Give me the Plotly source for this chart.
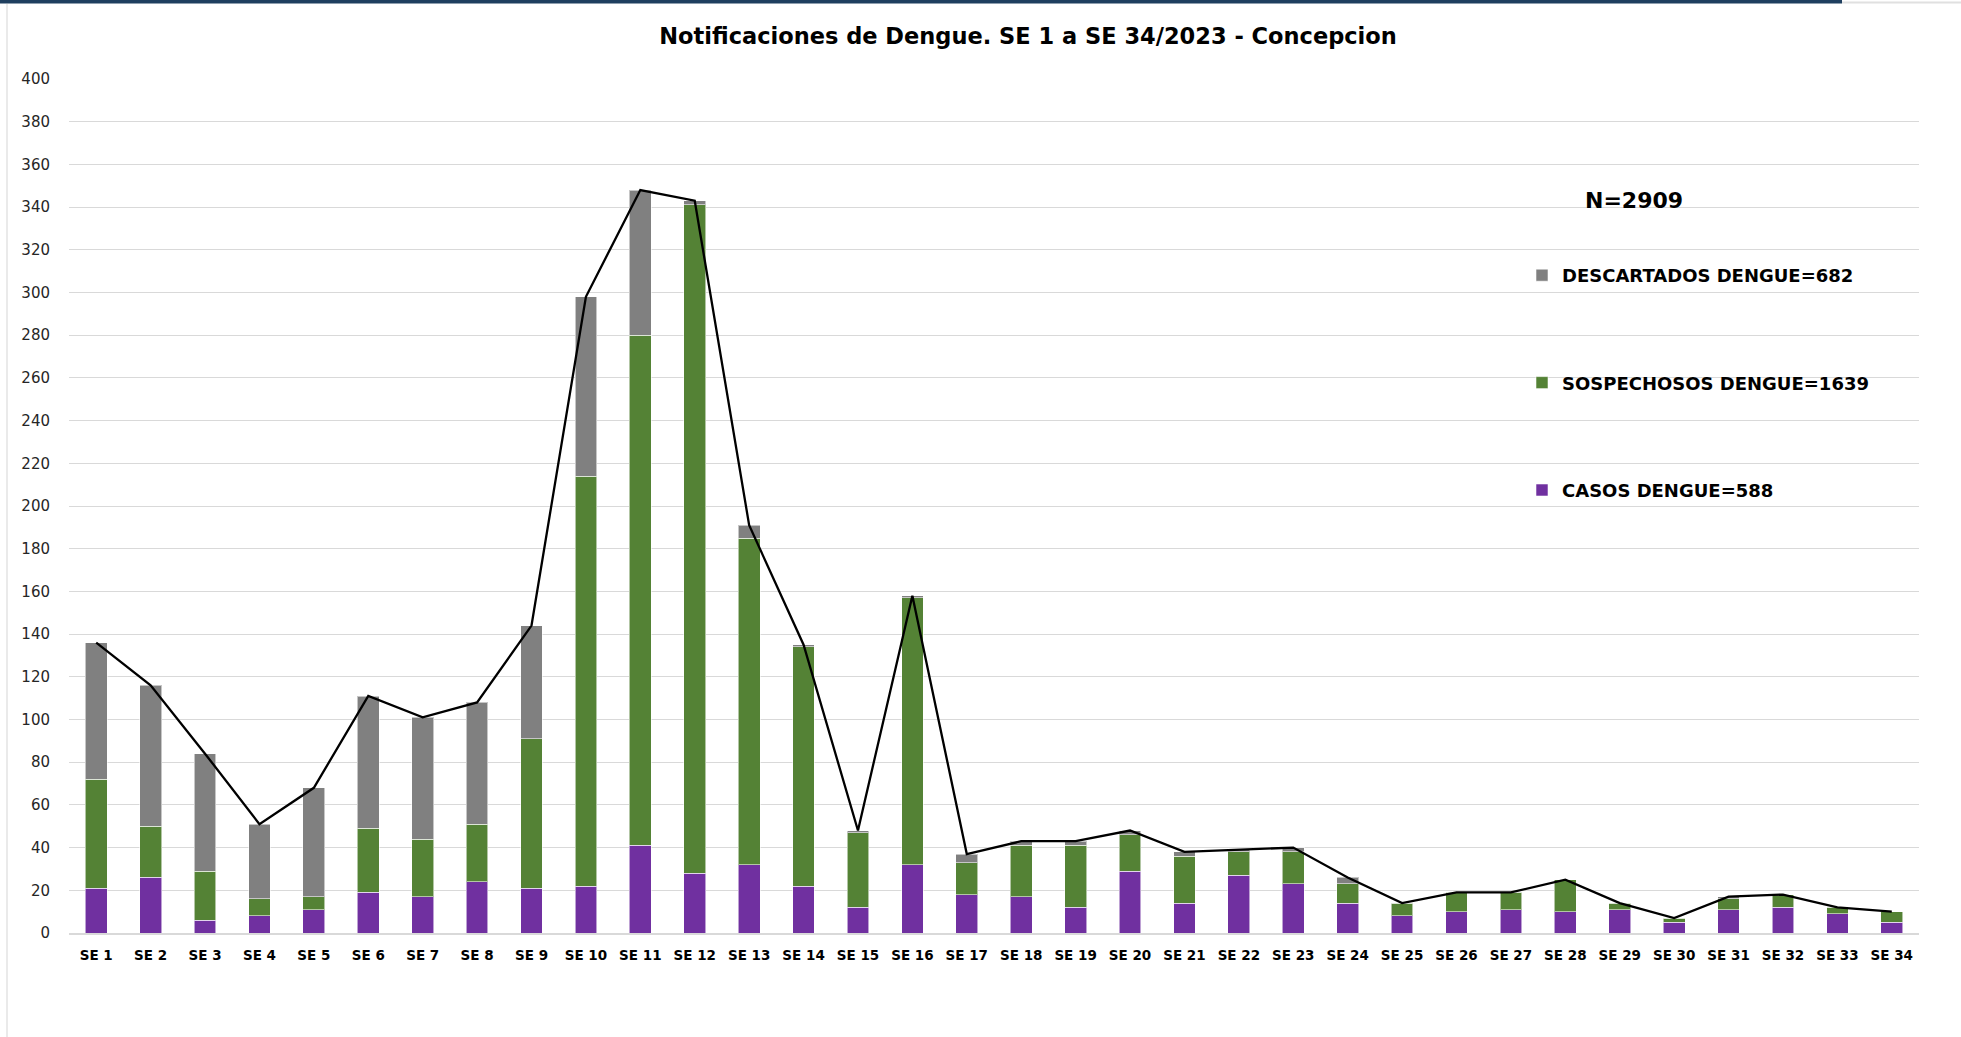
import plotly.graph_objects as go

semanas = [f"SE {i}" for i in range(1, 35)]

casos = [21, 26, 6, 8, 11, 19, 17, 24, 21, 22, 41, 28, 32, 22, 12, 32, 18,
         17, 12, 29, 14, 27, 23, 14, 8, 10, 11, 10, 11, 5, 11, 12, 9, 5]
sospechosos = [51, 24, 23, 8, 6, 30, 27, 27, 70, 192, 239, 313, 153, 112, 35, 125, 15,
               24, 29, 17, 22, 11, 15, 9, 6, 9, 8, 15, 3, 2, 5, 6, 3, 5]
descartados = [64, 66, 55, 35, 51, 62, 57, 57, 53, 84, 68, 2, 6, 1, 1, 1, 4,
               2, 2, 2, 2, 1, 2, 3, 0, 0, 0, 0, 0, 0, 1, 0, 0, 0]

y_ticks = list(range(0, 401, 20))

total = [c + s + d for c, s, d in zip(casos, sospechosos, descartados)]
n_total = sum(total)

W, H = 1961, 1037
L, R, T, B = 69, 42, 79, 104
PW, PH = W - L - R, H - T - B


def xp(px):
    return (px - L) / PW


def yp(py):
    return (H - B - py) / PH


FONT = "DejaVu Sans"
bar_line = dict(color="rgba(255,255,255,0.55)", width=1)

fig = go.Figure()
fig.add_trace(go.Bar(x=semanas, y=casos, name=f"CASOS DENGUE={sum(casos)}",
                     marker=dict(color="#7030A0", line=bar_line), legendgroup="c",
                     legendrank=3))
fig.add_trace(go.Bar(x=semanas, y=sospechosos, name=f"SOSPECHOSOS DENGUE={sum(sospechosos)}",
                     marker=dict(color="#548235", line=bar_line), legendgroup="s",
                     legendrank=2))
fig.add_trace(go.Bar(x=semanas, y=descartados, name=f"DESCARTADOS DENGUE={sum(descartados)}",
                     marker=dict(color="#808080", line=bar_line), legendgroup="d",
                     legendrank=1))
fig.add_trace(go.Scatter(x=semanas, y=total, mode="lines", showlegend=False,
                         line=dict(color="black", width=2.3), name="Total"))

fig.update_layout(
    width=W, height=H,
    margin=dict(l=L, r=R, t=T, b=B),
    paper_bgcolor="white", plot_bgcolor="white",
    barmode="stack", bargap=0.6,
    font=dict(family=FONT, color="#000000"),
    title=dict(text="<b>Notificaciones de Dengue. SE 1 a SE 34/2023 - Concepcion</b>",
               x=1028 / W, xanchor="center", y=1 - 36 / H, yanchor="middle",
               xref="container", yref="container",
               font=dict(family=FONT, size=22.5, color="#000000")),
    legend=dict(x=xp(1522), y=yp(257), xanchor="left", yanchor="top",
                traceorder="grouped", tracegroupgap=81,
                font=dict(family=FONT, size=18, color="#000000", weight="bold"),
                bgcolor="rgba(0,0,0,0)"),
    xaxis=dict(showgrid=False, showline=True, linecolor="#D9D9D9", linewidth=1.5,
               ticks="", tickfont=dict(family=FONT, size=13.5, color="#000000", weight="bold"),
               ticklabelstandoff=9, tickangle=0),
    yaxis=dict(range=[0, 400], tickvals=y_ticks, showgrid=True, gridcolor="#D9D9D9",
               gridwidth=1.3, zeroline=False, showline=False, ticks="",
               tickfont=dict(family=FONT, size=15, color="#262626"),
               ticklabelstandoff=18),
    annotations=[dict(text=f"<b>N={n_total}</b>", x=xp(1634), y=yp(200), xref="paper",
                      yref="paper", xanchor="center", yanchor="middle", showarrow=False,
                      font=dict(family=FONT, size=22, color="#000000"))],
    shapes=[
        dict(type="rect", xref="paper", yref="paper", x0=xp(0), x1=xp(1842),
             y0=yp(3.5), y1=yp(0), fillcolor="#1F3F5F", line=dict(width=0), layer="above"),
        dict(type="rect", xref="paper", yref="paper", x0=xp(1842), x1=xp(W),
             y0=yp(3.5), y1=yp(1.5), fillcolor="#E0E0E0", line=dict(width=0), layer="above"),
        dict(type="line", xref="paper", yref="paper", x0=xp(7), x1=xp(7),
             y0=yp(4), y1=yp(H), line=dict(color="#E3E3E3", width=1.5), layer="above"),
    ],
)

fig.write_html("out.html",
               config={"displayModeBar": False, "displaylogo": False},
               post_script="document.body.style.margin='0';document.body.style.overflow='hidden';")
